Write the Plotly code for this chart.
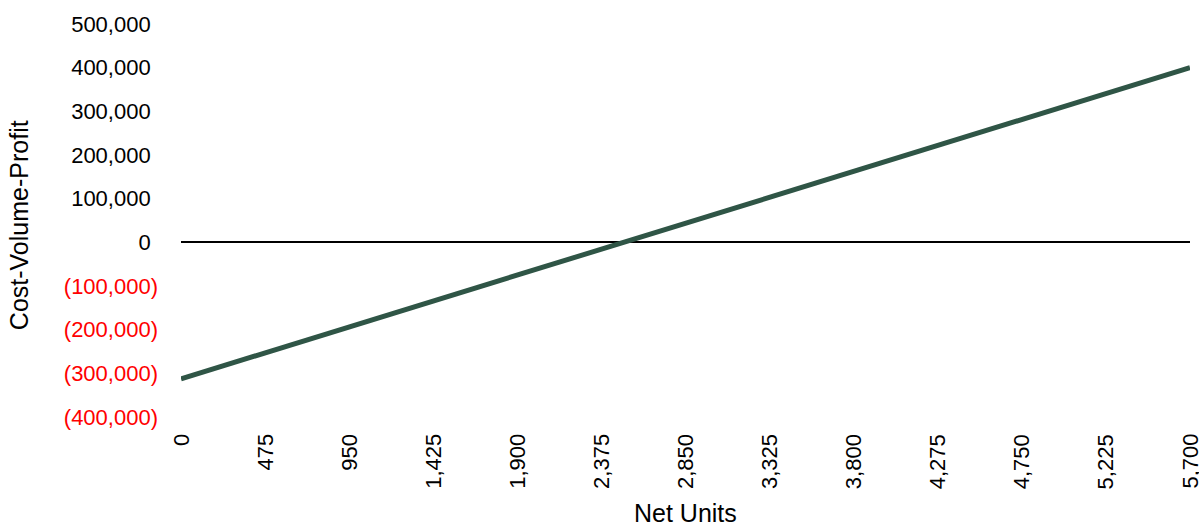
import plotly.graph_objects as go

# Cost-volume-profit by net units sold
units = [0, 475, 950, 1425, 1900, 2375, 2850, 3325, 3800, 4275, 4750, 5225, 5700]
unit_labels = ["0", "475", "950", "1,425", "1,900", "2,375", "2,850", "3,325",
               "3,800", "4,275", "4,750", "5,225", "5,700"]
profit = [-312500, -253125, -193750, -134375, -75000, -15625, 43750, 103125,
          162500, 221875, 281250, 340625, 400000]

y_ticks = [500000, 400000, 300000, 200000, 100000, 0,
           -100000, -200000, -300000, -400000]
y_tick_values_text = ["500,000", "400,000", "300,000", "200,000", "100,000", "0",
                      "(100,000)", "(200,000)", "(300,000)", "(400,000)"]

FONT = "Liberation Sans"
PAD = "<span style='color:rgba(0,0,0,0)'>)</span>"


def fmt_tick(value, text):
    # accounting style: negatives in red parentheses, positives padded
    if value < 0:
        return f"<span style='color:#FF0000'>{text}</span>"
    return text + PAD


y_tick_labels = [fmt_tick(v, t) for v, t in zip(y_ticks, y_tick_values_text)]

fig = go.Figure()
fig.add_trace(go.Scatter(
    x=units, y=profit, mode="lines",
    line=dict(color="#2F5546", width=5),
    hoverinfo="skip", showlegend=False,
))

# category labels drawn as rotated annotations under each tick
annotations = [
    dict(text=lbl, x=u, xref="x", y=0, yref="paper", yshift=-15,
         xanchor="center", yanchor="top", textangle=-90, showarrow=False,
         font=dict(family=FONT, size=22, color="#000000"))
    for u, lbl in zip(units, unit_labels)
]
annotations += [
    dict(text="Net Units", xref="paper", yref="paper", x=0.5, y=-0.245,
         xanchor="center", yanchor="middle", showarrow=False,
         font=dict(family=FONT, size=25)),
    dict(text="Cost-Volume-Profit", xref="paper", yref="paper",
         x=-0.161, y=0.487, xanchor="center", yanchor="middle",
         textangle=-90, showarrow=False, font=dict(family=FONT, size=25)),
]

fig.update_layout(
    width=1199, height=526,
    margin=dict(l=181, r=9, t=24, b=109),
    paper_bgcolor="white", plot_bgcolor="white",
    font=dict(family=FONT, size=22, color="#000000"),
    xaxis=dict(
        range=[0, 5700], showticklabels=False, showgrid=False,
        zeroline=False, showline=False, ticks="",
    ),
    yaxis=dict(
        range=[-400000, 500000], tickvals=y_ticks, ticktext=y_tick_labels,
        showgrid=False, zeroline=True, zerolinecolor="#000000", zerolinewidth=2,
        showline=False, ticks="", ticklabelstandoff=22,
    ),
    annotations=annotations,
)

fig.write_html("out.html")
